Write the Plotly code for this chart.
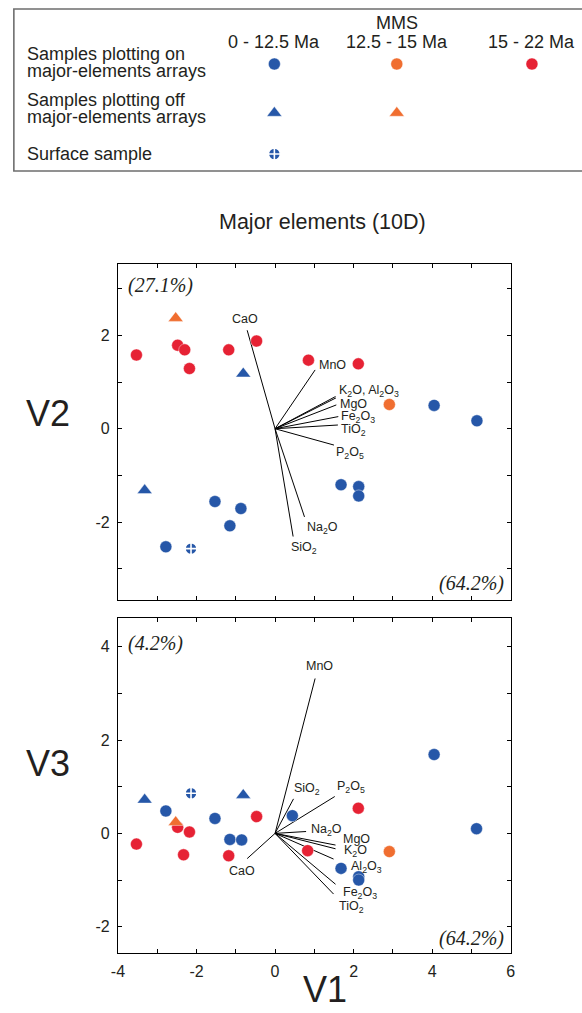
import plotly.graph_objects as go

W, H = 582, 1013

# ---- sample scores (PCA of major elements) ----
# V1 / V2 panel
blue_on_v1 = [-2.78, -1.53, -1.15, -0.87, 1.68, 2.13, 2.13, 4.05, 5.14]
blue_on_v2 = [-2.53, -1.56, -2.08, -1.71, -1.20, -1.24, -1.44, 0.50, 0.17]
blue_off_v1 = [-3.32, -0.81]
blue_off_v2 = [-1.32, 1.18]
surface_v1 = [-2.14]
surface_v2 = [-2.57]
orange_on_v1 = [2.91]
orange_on_v2 = [0.52]
orange_off_v1 = [-2.53]
orange_off_v2 = [2.37]
red_on_v1 = [-3.53, -2.48, -2.30, -2.18, -1.18, -0.47, 0.85, 2.12]
red_on_v2 = [1.58, 1.79, 1.69, 1.29, 1.69, 1.88, 1.47, 1.39]

# V1 / V3 panel
blue_on_v1b = [-2.78, -1.53, -1.15, -0.85, 0.44, 1.68, 2.13, 2.13, 4.05, 5.13]
blue_on_v3 = [0.48, 0.32, -0.13, -0.14, 0.38, -0.75, -0.93, -1.00, 1.69, 0.10]
blue_off_v1b = [-3.32, -0.81]
blue_off_v3 = [0.72, 0.82]
surface_v1b = [-2.14]
surface_v3 = [0.86]
orange_on_v1b = [2.91]
orange_on_v3 = [-0.39]
orange_off_v1b = [-2.53]
orange_off_v3 = [0.24]
red_on_v1b = [-3.53, -2.48, -2.33, -2.18, -1.18, -0.47, 0.83, 2.12]
red_on_v3 = [-0.23, 0.13, -0.46, 0.03, -0.48, 0.36, -0.37, 0.54]

# ---- variable loadings (vector end points) ----
oxides_top = ["CaO", "SiO2", "Na2O", "MnO", "K2O", "Al2O3", "MgO", "Fe2O3", "TiO2", "P2O5"]
load_top_v1 = [-0.71, 0.46, 0.75, 1.02, 1.54, 1.55, 1.56, 1.61, 1.60, 1.50]
load_top_v2 = [2.11, -2.31, -1.89, 1.26, 0.69, 0.66, 0.51, 0.26, 0.08, -0.35]

oxides_bot = ["MnO", "SiO2", "P2O5", "Na2O", "CaO", "MgO", "K2O", "Al2O3", "Fe2O3", "TiO2"]
load_bot_v1 = [1.02, 0.47, 1.52, 0.79, -0.71, 1.54, 1.54, 1.49, 1.54, 1.49]
load_bot_v3 = [3.32, 0.74, 0.79, 0.04, -0.54, -0.25, -0.33, -0.55, -1.09, -1.30]

pct_v1 = "(64.2%)"
pct_v2 = "(27.1%)"
pct_v3 = "(4.2%)"

BLUE = "#2657a8"
ORANGE = "#f06e30"
RED = "#e62234"
INK = "#231f20"
SANS = "Liberation Sans, Arial, Helvetica, sans-serif"
SERIF = "Liberation Serif, Times New Roman, serif"


def paper(px, py):
    return px / W, 1 - py / H


def sub(name):
    out = ""
    for ch in name:
        out += f"<sub>{ch}</sub>" if ch.isdigit() else ch
    return out


fig = go.Figure()


def add_points(xs, ys, color, symbol, xa, ya, size=12):
    if symbol == "circle-cross":
        line = dict(color="white", width=1.6)
    else:
        line = dict(color="rgba(255,255,255,0.7)", width=0.6)
    fig.add_trace(go.Scatter(
        x=xs, y=ys, mode="markers", xaxis=xa, yaxis=ya, showlegend=False,
        marker=dict(color=color, size=size, symbol=symbol, line=line),
        hoverinfo="skip"))


def add_vectors(vx, vy, xa, ya):
    lx, ly = [], []
    for a, b in zip(vx, vy):
        lx += [0, a, None]
        ly += [0, b, None]
    fig.add_trace(go.Scatter(
        x=lx, y=ly, mode="lines", xaxis=xa, yaxis=ya, showlegend=False,
        line=dict(color="black", width=1), hoverinfo="skip"))


# top panel
add_vectors(load_top_v1, load_top_v2, "x", "y")
add_points(red_on_v1, red_on_v2, RED, "circle", "x", "y")
add_points(orange_on_v1, orange_on_v2, ORANGE, "circle", "x", "y")
add_points(orange_off_v1, orange_off_v2, ORANGE, "triangle-up", "x", "y", 13)
add_points(blue_on_v1, blue_on_v2, BLUE, "circle", "x", "y")
add_points(blue_off_v1, blue_off_v2, BLUE, "triangle-up", "x", "y", 13)
add_points(surface_v1, surface_v2, BLUE, "circle-cross", "x", "y")

# bottom panel
add_vectors(load_bot_v1, load_bot_v3, "x2", "y2")
add_points(red_on_v1b, red_on_v3, RED, "circle", "x2", "y2")
add_points(orange_on_v1b, orange_on_v3, ORANGE, "circle", "x2", "y2")
add_points(orange_off_v1b, orange_off_v3, ORANGE, "triangle-up", "x2", "y2", 13)
add_points(blue_on_v1b, blue_on_v3, BLUE, "circle", "x2", "y2")
add_points(blue_off_v1b, blue_off_v3, BLUE, "triangle-up", "x2", "y2", 13)
add_points(surface_v1b, surface_v3, BLUE, "circle-cross", "x2", "y2")

annotations = []

# vector labels: (anchor x, anchor y, xshift, yshift)
top_label_place = {
    "CaO": ("center", "bottom", -2, 2),
    "SiO2": ("left", "top", -4, -1),
    "Na2O": ("left", "top", 0, -1),
    "MnO": ("left", "middle", 2, 5),
    "K2O": ("left", "middle", 1, 6),
    "MgO": ("left", "middle", 2, 1),
    "Fe2O3": ("left", "middle", 1, 0),
    "TiO2": ("left", "middle", 1, -5),
    "P2O5": ("left", "middle", 0, -8),
}
top_label_text = {"K2O": "K<sub>2</sub>O, Al<sub>2</sub>O<sub>3</sub>"}
for name, vx, vy in zip(oxides_top, load_top_v1, load_top_v2):
    if name not in top_label_place:
        continue
    xa_, ya_, dx, dy = top_label_place[name]
    annotations.append(dict(
        x=vx, y=vy, xref="x", yref="y", text=top_label_text.get(name, sub(name)),
        showarrow=False, xanchor=xa_, yanchor=ya_, xshift=dx, yshift=dy,
        font=dict(family=SANS, size=12.5, color=INK)))

bot_label_place = {
    "MnO": ("center", "bottom", 4, 3),
    "SiO2": ("left", "bottom", -2, 0),
    "P2O5": ("left", "bottom", 0, 0),
    "Na2O": ("left", "middle", 3, 2),
    "CaO": ("center", "top", -5, -3),
    "MgO": ("left", "middle", 5, 6),
    "K2O": ("left", "middle", 6, -2),
    "Al2O3": ("left", "middle", 15, -8),
    "Fe2O3": ("left", "middle", 5, -9),
    "TiO2": ("left", "middle", 3, -13),
}
for name, vx, vy in zip(oxides_bot, load_bot_v1, load_bot_v3):
    xa_, ya_, dx, dy = bot_label_place[name]
    annotations.append(dict(
        x=vx, y=vy, xref="x2", yref="y2", text=sub(name),
        showarrow=False, xanchor=xa_, yanchor=ya_, xshift=dx, yshift=dy,
        font=dict(family=SANS, size=12.5, color=INK)))


def note(text, px, py, size, xanchor="center", family=SANS, italic=False):
    x, y = paper(px, py)
    t = f"<i>{text}</i>" if italic else text
    annotations.append(dict(
        x=x, y=y, xref="paper", yref="paper", text=t, showarrow=False,
        xanchor=xanchor, yanchor="middle",
        font=dict(family=family, size=size, color=INK)))


# variance explained
note(pct_v2, 122, 285, 20, "left", SERIF, True)
note(pct_v1, 510, 583, 20, "right", SERIF, True)
note(pct_v3, 122, 643, 20, "left", SERIF, True)
note(pct_v1, 510, 938, 20, "right", SERIF, True)

# axis titles and heading
note("V2", 42, 413, 36)
note("V3", 42, 763, 36)
note("V1", 325, 989, 36)
note("Major elements (10D)", 322, 222, 21.5)

# key
note("MMS", 398, 23, 18)
key_cols = [273, 398, 536]
key_rows = [64, 113, 154]
for txt, cx in zip(["0 - 12.5 Ma", "12.5 - 15 Ma", "15 - 22 Ma"], key_cols):
    note(txt, cx, 42, 18)
for txt, py in [("Samples plotting on", 54), ("major-elements arrays", 71),
                ("Samples plotting off", 100), ("major-elements arrays", 117),
                ("Surface sample", 154)]:
    note(txt, 18, py, 18, "left")

key_items = [
    (key_cols[0], key_rows[0], BLUE, "circle"),
    (key_cols[1], key_rows[0], ORANGE, "circle"),
    (key_cols[2], key_rows[0], RED, "circle"),
    (key_cols[0], key_rows[1], BLUE, "triangle-up"),
    (key_cols[1], key_rows[1], ORANGE, "triangle-up"),
    (key_cols[0], key_rows[2], BLUE, "circle-cross"),
]
for kx, ky, col, sym in key_items:
    add_points([kx], [ky], col, sym, "x3", "y3", 13 if sym == "triangle-up" else 12)

shapes = [dict(type="rect", xref="paper", yref="paper",
               x0=7 / W, x1=1.02, y0=1 - 171 / H, y1=1 - 9 / H,
               line=dict(color="#6e6e6e", width=1.6), fillcolor="rgba(0,0,0,0)")]

x0d, x1d = 113.3 / W, 514.3 / W
tick_x = list(range(-4, 7))
tick_x_txt = [str(v) if v % 2 == 0 else "" for v in tick_x]

axis_common = dict(showline=True, linecolor="black", linewidth=1.2, mirror="ticks",
                   ticks="inside", ticklen=4, tickwidth=1, tickcolor="black",
                   showgrid=False, zeroline=False,
                   tickfont=dict(family=SANS, size=16, color=INK))

fig.update_layout(
    width=W, height=H, margin=dict(l=0, r=0, t=0, b=0),
    paper_bgcolor="white", plot_bgcolor="rgba(0,0,0,0)",
    showlegend=False,
    xaxis=dict(domain=[x0d, x1d], range=[-4, 6], anchor="y",
               tickvals=tick_x, ticktext=["" for _ in tick_x], **axis_common),
    yaxis=dict(domain=[1 - 600 / H, 1 - 264 / H], range=[-3.67, 3.53], anchor="x",
               tickvals=list(range(-3, 4)),
               ticktext=[str(v) if v % 2 == 0 else "" for v in range(-3, 4)],
               ticklabelstandoff=4, **axis_common),
    xaxis2=dict(domain=[x0d, x1d], range=[-4, 6], anchor="y2",
                tickvals=tick_x, ticktext=tick_x_txt, ticklabelstandoff=3, **axis_common),
    yaxis2=dict(domain=[1 - 953.3 / H, 1 - 618.3 / H], range=[-2.57, 4.61], anchor="x2",
                tickvals=list(range(-2, 5)),
                ticktext=[str(v) if v % 2 == 0 else "" for v in range(-2, 5)],
                ticklabelstandoff=4, **axis_common),
    xaxis3=dict(domain=[0, 1], range=[0, W], visible=False, anchor="y3"),
    yaxis3=dict(domain=[0, 1], range=[H, 0], visible=False, anchor="x3"),
    annotations=annotations,
    shapes=shapes,
)

fig.write_html("out.html")
